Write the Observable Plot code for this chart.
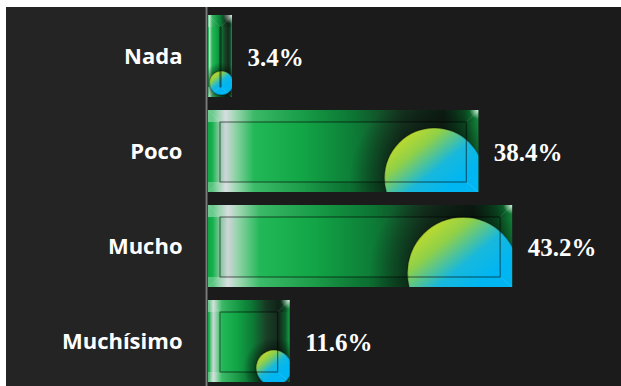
<!DOCTYPE html>
<html><head><meta charset="utf-8">
<script src="https://cdn.jsdelivr.net/npm/d3@7"></script>
<script src="https://cdn.jsdelivr.net/npm/@observablehq/plot@0.6"></script>
<style>
html,body{margin:0;padding:0;background:#fff;}
#chart{position:absolute;left:6px;top:7px;width:615px;height:379px;overflow:hidden;}
</style></head><body><div id="chart"></div>
<script>
const categories = ["Nada", "Poco", "Mucho", "Muchísimo"];
const values = [3.4, 38.4, 43.2, 11.6];
const data = categories.map((c, i) => ({cat: c, value: values[i]}));
const fmt = d3.format(".1f");

const plot = Plot.plot({
  width: 615, height: 379,
  marginLeft: 202, marginRight: 61, marginTop: 8, marginBottom: 3,
  style: {background: "linear-gradient(to right,#242424 0,#242424 199px,#1b1b1b 199px)", color: "#fff", overflow: "visible"},
  x: {domain: [0, 50], axis: null},
  y: {domain: categories, paddingInner: 0.133, paddingOuter: 0, label: null, tickSize: 0, tickPadding: 26},
  marks: [
    Plot.barX(data, {x: "value", y: "cat", fill: "#14b04c"}),
    Plot.ruleX([0], {stroke: "#7a7a7a", strokeWidth: 2, dx: -2, insetTop: -8, insetBottom: -3}),
    Plot.text(data, {x: "value", y: "cat", text: d => fmt(d.value) + "%", dx: 15, dy: 1, textAnchor: "start",
      fill: "#fff", fontSize: 25, fontWeight: "bold", fontFamily: "Liberation Serif"})
  ]
});
document.getElementById("chart").appendChild(plot);

// style y tick labels
plot.querySelectorAll('g[aria-label="y-axis tick label"] text, g[aria-label="y-axis"] text').forEach(t => {
  t.setAttribute("fill", "#fff");
  t.style.font = "bold 22px 'Open Sans'";
});

// decorative glossy bar fill, derived from each Plot-rendered rect
const svg = d3.select(plot);
const defs = svg.insert("defs", ":first-child");
function lin(id, attrs, stops) {
  const g = defs.append("linearGradient").attr("id", id);
  Object.entries(attrs).forEach(([k, v]) => g.attr(k, v));
  stops.forEach(([o, c, op]) => g.append("stop").attr("offset", o).attr("stop-color", c).attr("stop-opacity", op == null ? 1 : op));
}
function rad(id, stops) {
  const g = defs.append("radialGradient").attr("id", id);
  stops.forEach(([o, c, op]) => g.append("stop").attr("offset", o).attr("stop-color", c).attr("stop-opacity", op == null ? 1 : op));
}
lin("base", {x1: 0, y1: 0, x2: 1, y2: 0}, [
  [0, "#0fa646"], [0.015, "#14b04c"], [0.035, "#6fc48e"], [0.065, "#cfd5d9"], [0.1, "#90d3a7"],
  [0.17, "#22b857"], [0.35, "#12a546"], [0.55, "#0d7a36"], [0.72, "#1a3f27"], [0.87, "#13291c"],
  [0.95, "#0c5e2a"], [1, "#15a347"]
]);
lin("ball", {x1: 0.2, y1: 0.05, x2: 0.65, y2: 0.6}, [
  [0, "#c4dc2a"], [0.3, "#90d048"], [0.68, "#18b8dc"], [1, "#00b6f2"]
]);
lin("topband", {x1: 0, y1: 0, x2: 1, y2: 0}, [
  [0, "#ffffff", 0.4], [0.06, "#ffffff", 0.2], [0.5, "#000000", 0.05], [0.9, "#000000", 0.2], [1, "#000000", 0]
]);
lin("botband", {x1: 0, y1: 0, x2: 1, y2: 0}, [
  [0, "#ffffff", 0.3], [0.1, "#ffffff", 0.15], [0.5, "#000000", 0.12], [1, "#000000", 0.15]
]);
rad("shadow", [[0.5, "#000", 0.5], [1, "#000", 0]]);
rad("corner", [[0, "#ffffff", 0.85], [1, "#ffffff", 0]]);

plot.querySelectorAll('g[aria-label="bar"] rect').forEach((rect, i) => {
  const x = +rect.getAttribute("x"), y = +rect.getAttribute("y");
  const w = +rect.getAttribute("width"), h = +rect.getAttribute("height");
  rect.setAttribute("fill", "url(#base)");
  const parent = d3.select(rect.parentNode);
  const cid = "clip" + i;
  defs.append("clipPath").attr("id", cid).append("rect").attr("x", x).attr("y", y).attr("width", w).attr("height", h);
  const g = parent.append("g").attr("clip-path", `url(#${cid})`);
  const r = Math.max(12, 0.17 * w + 4);
  const cx = x + w - 0.88 * r, cy = y + h - 14;
  g.append("circle").attr("cx", cx).attr("cy", cy).attr("r", r * 1.7).attr("fill", "url(#shadow)");
  g.append("rect").attr("x", x).attr("y", y).attr("width", w).attr("height", 12).attr("fill", "url(#topband)");
  g.append("rect").attr("x", x).attr("y", y + h - 10).attr("width", w).attr("height", 10).attr("fill", "url(#botband)");
  g.append("circle").attr("cx", cx).attr("cy", cy).attr("r", r).attr("fill", "url(#ball)")
    .attr("stroke", "rgba(0,0,0,0.25)").attr("stroke-width", 1.5);
  const iw = Math.max(1, w - 24);
  g.append("rect").attr("x", x + 12).attr("y", y + 12).attr("width", iw).attr("height", h - 22)
    .attr("fill", "none").attr("stroke", "rgba(0,0,0,0.5)").attr("stroke-width", 1.2);
  const corners = [[x, y, x + 12, y + 12], [x + w, y, x + 12 + iw, y + 12], [x, y + h, x + 12, y + h - 10], [x + w, y + h, x + 12 + iw, y + h - 10]];
  corners.forEach(([a, b, c, d]) => g.append("line").attr("x1", a).attr("y1", b).attr("x2", c).attr("y2", d)
    .attr("stroke", "rgba(255,255,255,0.12)").attr("stroke-width", 1));
  g.append("circle").attr("cx", x + w).attr("cy", y).attr("r", 9).attr("fill", "url(#corner)");
});
</script></body></html>
